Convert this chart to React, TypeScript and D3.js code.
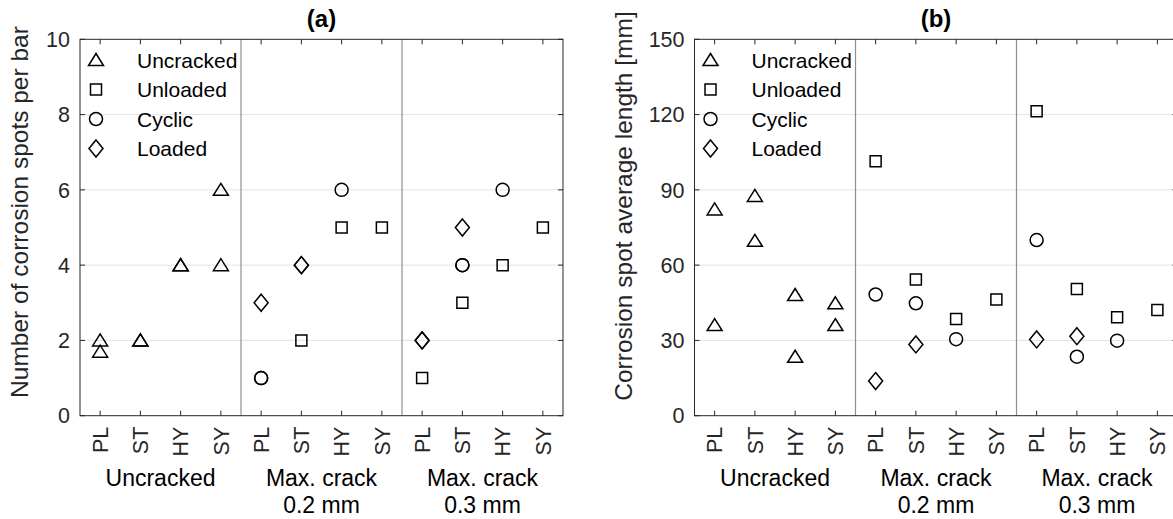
import * as React from 'react'
import { useEffect, useRef } from 'react'
import * as d3 from 'd3'

// categories
const bars = ['PL', 'ST', 'HY', 'SY']
const groups = [['Uncracked'], ['Max. crack', '0.2 mm'], ['Max. crack', '0.3 mm']]
const seriesNames = ['Uncracked', 'Unloaded', 'Cyclic', 'Loaded']
const shapes = ['triangle', 'square', 'circle', 'diamond']

// (a) number of corrosion spots per bar: [position 1..12, value]
const spotsUncracked = [[1, 2], [1, 1.7], [2, 2], [2, 2], [3, 4], [3, 4], [4, 6], [4, 4]]
const spotsUnloaded = [[6, 2], [7, 5], [8, 5], [9, 1], [10, 3], [11, 4], [12, 5]]
const spotsCyclic = [[5, 1], [5, 1], [7, 6], [10, 4], [10, 4], [11, 6]]
const spotsLoaded = [[5, 3], [6, 4], [6, 4], [9, 2], [9, 2], [10, 5]]

// (b) corrosion spot average length [mm]
const lenUncracked = [[1, 82.2], [1, 36.1], [2, 87.6], [2, 69.7], [3, 48.1], [3, 23.5], [4, 44.8], [4, 36.1]]
const lenUnloaded = [[5, 101.4], [6, 54.3], [7, 38.5], [8, 46.3], [9, 121.3], [10, 50.5], [11, 39.2], [12, 42.1]]
const lenCyclic = [[5, 48.3], [6, 44.8], [7, 30.5], [9, 70], [10, 23.5], [11, 29.9]]
const lenLoaded = [[5, 13.8], [6, 28.4], [9, 30.4], [10, 31.7]]

const spotsTicks = [0, 2, 4, 6, 8, 10]
const lenTicks = [0, 30, 60, 90, 120, 150]

const FONT = '"Liberation Sans", Arial, Helvetica, sans-serif'
const AX = '#262626'

function markerPath(shape: string) {
  if (shape === 'triangle') return 'M0,-6.5L7.5,5.5L-7.5,5.5Z'
  if (shape === 'square') return 'M-5.5,-5.5H5.5V5.5H-5.5Z'
  if (shape === 'diamond') return 'M0,-8.5L7,0L0,8.5L-7,0Z'
  return 'M6.5,0A6.5,6.5 0 1 1 -6.5,0A6.5,6.5 0 1 1 6.5,0Z'
}

const App = () => {
  const ref = useRef<HTMLDivElement | null>(null)

  useEffect(() => {
    const svg = d3.select(ref.current)
      .append('svg')
      .attr('width', 1173)
      .attr('height', 519)
      .style('position', 'absolute')
      .style('left', 0)
      .style('top', 0)
      .style('background', '#fff')
      .style('font-family', FONT)

    const top = 39.3
    const bottom = 415.7
    const plotW = 483

    const panels = [
      { left: 80, title: '(a)', label: 'Number of corrosion spots per bar', max: 10, ticks: spotsTicks,
        series: [spotsUncracked, spotsUnloaded, spotsCyclic, spotsLoaded], labelX: 27.5, labelY: 212 },
      { left: 694.5, title: '(b)', label: 'Corrosion spot average length [mm]', max: 150, ticks: lenTicks,
        series: [lenUncracked, lenUnloaded, lenCyclic, lenLoaded], labelX: 631.5, labelY: 206 },
    ]

    panels.forEach(p => {
      const x = d3.scaleLinear().domain([0.5, 12.5]).range([p.left, p.left + plotW])
      const y = d3.scaleLinear().domain([0, p.max]).range([bottom, top])
      const g = svg.append('g')
      const xt = d3.range(1, 13)

      // grid
      g.selectAll('.grid').data(p.ticks.slice(1, -1)).enter().append('line')
        .attr('x1', x(0.5)).attr('x2', x(12.5))
        .attr('y1', d => y(d)).attr('y2', d => y(d))
        .attr('stroke', '#e3e3e3').attr('stroke-width', 1)

      // group separators
      g.selectAll('.sep').data([4.5, 8.5]).enter().append('line')
        .attr('x1', d => x(d)).attr('x2', d => x(d))
        .attr('y1', top).attr('y2', bottom)
        .attr('stroke', '#8f8f8f').attr('stroke-width', 1.2)

      // box
      g.append('rect')
        .attr('x', x(0.5)).attr('y', top)
        .attr('width', x(12.5) - x(0.5)).attr('height', bottom - top)
        .attr('fill', 'none').attr('stroke', AX).attr('stroke-width', 1)

      // ticks (inward)
      xt.forEach(t => {
        g.append('line').attr('x1', x(t)).attr('x2', x(t)).attr('y1', bottom).attr('y2', bottom - 5).attr('stroke', AX)
        g.append('line').attr('x1', x(t)).attr('x2', x(t)).attr('y1', top).attr('y2', top + 5).attr('stroke', AX)
      })
      p.ticks.forEach(t => {
        g.append('line').attr('x1', x(0.5)).attr('x2', x(0.5) + 5).attr('y1', y(t)).attr('y2', y(t)).attr('stroke', AX)
        g.append('line').attr('x1', x(12.5)).attr('x2', x(12.5) - 5).attr('y1', y(t)).attr('y2', y(t)).attr('stroke', AX)
      })

      // y tick labels
      g.selectAll('.yl').data(p.ticks).enter().append('text')
        .attr('x', x(0.5) - 10).attr('y', d => y(d)).attr('dy', '0.36em')
        .attr('text-anchor', 'end').attr('font-size', 21.5).attr('fill', AX)
        .text(d => d)

      // x tick labels, rotated
      g.selectAll('.xl').data(xt).enter().append('text')
        .attr('transform', d => `translate(${x(d)},${bottom + 11}) rotate(-90)`)
        .attr('dy', '0.36em')
        .attr('text-anchor', 'end').attr('font-size', 21.5).attr('fill', AX)
        .text(d => bars[(d - 1) % 4])

      // group labels
      groups.forEach((lines, i) => {
        lines.forEach((ln, j) => {
          g.append('text')
            .attr('x', x(2.5 + i * 4)).attr('y', 486 + j * 27)
            .attr('text-anchor', 'middle').attr('font-size', 23).attr('fill', '#000')
            .text(ln)
        })
      })

      // title
      g.append('text')
        .attr('x', (x(0.5) + x(12.5)) / 2).attr('y', 27)
        .attr('text-anchor', 'middle').attr('font-size', 24).attr('font-weight', 'bold').attr('fill', '#000')
        .text(p.title)

      // y axis label
      g.append('text')
        .attr('transform', `translate(${p.labelX},${p.labelY}) rotate(-90)`)
        .attr('text-anchor', 'middle').attr('font-size', 24.5).attr('fill', AX)
        .text(p.label)

      // markers
      p.series.forEach((pts, si) => {
        g.selectAll(`.m${si}`).data(pts).enter().append('path')
          .attr('transform', d => `translate(${x(d[0])},${y(d[1])})`)
          .attr('d', markerPath(shapes[si]))
          .attr('fill', 'none').attr('stroke', '#000').attr('stroke-width', 1.5)
      })

      // legend
      seriesNames.forEach((name, i) => {
        const ly = 60 + i * 29.5
        g.append('path')
          .attr('transform', `translate(${p.left + 16},${ly})`)
          .attr('d', markerPath(shapes[i]))
          .attr('fill', 'none').attr('stroke', '#000').attr('stroke-width', 1.5)
        g.append('text')
          .attr('x', p.left + 57).attr('y', ly).attr('dy', '0.36em')
          .attr('font-size', 21).attr('fill', '#000')
          .text(name)
      })
    })

    return () => {
      svg.remove()
    }
  }, [])

  return <div ref={ref} />
}

export default App
